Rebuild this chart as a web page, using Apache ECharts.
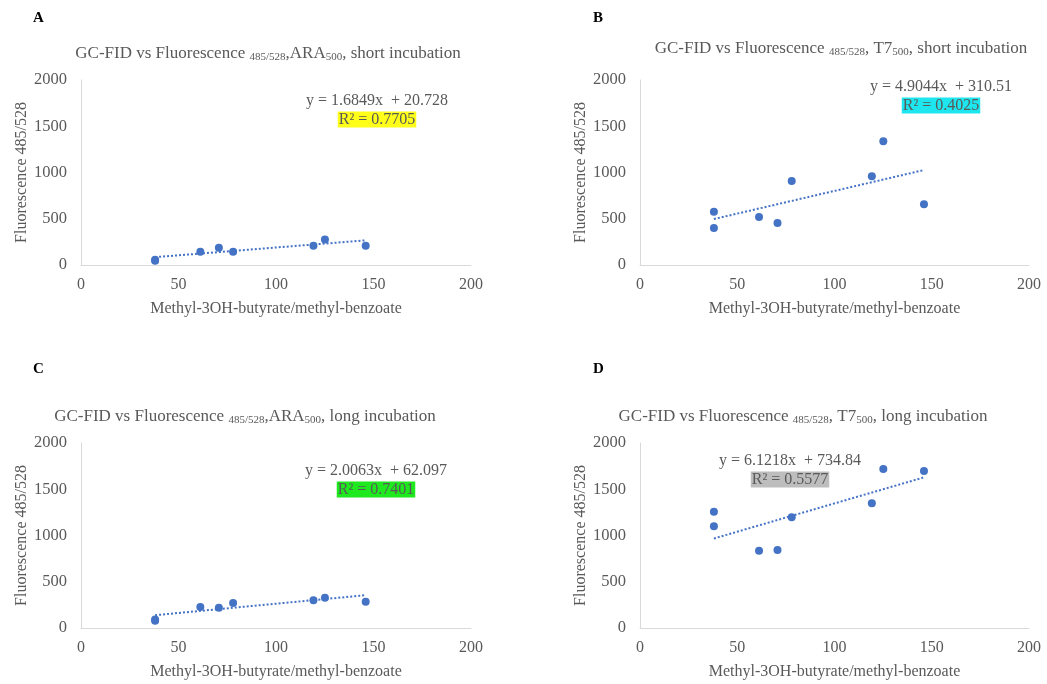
<!DOCTYPE html>
<html>
<head>
<meta charset="utf-8">
<script src="https://cdn.jsdelivr.net/npm/echarts@6/dist/echarts.min.js"></script>
<style>
  html, body { margin: 0; padding: 0; background: #fff; }
  #chart { width: 1047px; height: 684px; }
</style>
</head>
<body>
<div id="chart"></div>
<script>
// Methyl-3OH-butyrate / methyl-benzoate ratio (shared by all four panels)
const ratio = [38, 38, 61.2, 70.7, 78, 119.2, 125.1, 146];

// Fluorescence 485/528 readings per panel
const fluorA = [47, 58, 144, 187, 144, 209, 277, 209];   // ARA500, short incubation
const fluorB = [577, 400, 519, 454, 908, 959, 1337, 656]; // T7500, short incubation
const fluorC = [79, 92, 227, 220, 270, 299, 328, 285];    // ARA500, long incubation
const fluorD = [1258, 1099, 836, 843, 1196, 1348, 1719, 1697]; // T7500, long incubation

// Linear trendline fits
const slopes = [1.6849, 4.9044, 2.0063, 6.1218];
const intercepts = [20.728, 310.51, 62.097, 734.84];
const rSquared = ['0.7705', '0.4025', '0.7401', '0.5577'];
const r2Colors = ['#ffff1a', '#1ee6ee', '#1ee81e', '#bdbdbd'];

const panelLetters = ['A', 'B', 'C', 'D'];
const strainNames = ['ARA', 'T7', 'ARA', 'T7'];
const strainSep = [',', ', ', ',', ', '];
const incubation = ['short incubation', 'short incubation', 'long incubation', 'long incubation'];

const xTicks = [0, 50, 100, 150, 200];
const yTicks = [0, 500, 1000, 1500, 2000];

const panels = [fluorA, fluorB, fluorC, fluorD];

const FONT = '"Liberation Serif", "Times New Roman", serif';
const TEXT = '#595959';
const BLUE = '#4472C4';

// plot-area placement (pixels)
const grids = [
  { left: 81, top: 80, width: 390, height: 185 },
  { left: 640, top: 80, width: 389, height: 185 },
  { left: 81, top: 443, width: 390, height: 185 },
  { left: 640, top: 443, width: 389, height: 185 }
];
const titlePos = [[268, 52], [841, 47], [245, 415], [803, 415]];
const letterPos = [[33, 11], [593, 11], [33, 362], [593, 362]];
const eqPos = [[377, 91], [941, 77], [376, 461], [790, 451]];

const xAxes = [], yAxes = [], series = [], graphics = [];

panels.forEach((vals, i) => {
  xAxes.push({
    gridIndex: i, type: 'value', min: xTicks[0], max: xTicks[xTicks.length - 1], interval: 50,
    name: 'Methyl-3OH-butyrate/methyl-benzoate', nameLocation: 'middle', nameGap: 36,
    nameTextStyle: { color: TEXT, fontFamily: FONT, fontSize: 16 },
    axisLine: { show: true, lineStyle: { color: '#d9d9d9', width: 1 } },
    axisTick: { show: false }, splitLine: { show: false },
    axisLabel: { color: TEXT, fontFamily: FONT, fontSize: 16, margin: 12, formatter: v => String(v) }
  });
  yAxes.push({
    gridIndex: i, type: 'value', min: yTicks[0], max: yTicks[yTicks.length - 1], interval: 500,
    name: 'Fluorescence 485/528', nameLocation: 'middle', nameGap: 51,
    nameTextStyle: { color: TEXT, fontFamily: FONT, fontSize: 16 },
    axisLine: { show: true, lineStyle: { color: '#d9d9d9', width: 1 } },
    axisTick: { show: false }, splitLine: { show: false },
    axisLabel: { color: TEXT, fontFamily: FONT, fontSize: 16.5, margin: 14, formatter: v => String(v) }
  });

  const pts = ratio.map((x, k) => [x, vals[k]]);
  series.push({
    type: 'scatter', xAxisIndex: i, yAxisIndex: i, data: pts,
    symbolSize: 8, itemStyle: { color: BLUE, opacity: 1 }, z: 3
  });

  const xmin = Math.min(...ratio), xmax = Math.max(...ratio);
  series.push({
    type: 'line', xAxisIndex: i, yAxisIndex: i,
    data: [[xmin, slopes[i] * xmin + intercepts[i]], [xmax, slopes[i] * xmax + intercepts[i]]],
    symbol: 'none', silent: true, z: 2,
    lineStyle: { color: BLUE, width: 2, type: [2, 2] }
  });

  graphics.push({
    type: 'text', left: letterPos[i][0], top: letterPos[i][1],
    style: { text: panelLetters[i], font: 'bold 15px ' + FONT, fill: '#000' }
  });

  graphics.push({
    type: 'text', x: titlePos[i][0], y: titlePos[i][1],
    style: {
      text: '{m|GC-FID vs Fluorescence }{s|485/528}{m|' + strainSep[i] + strainNames[i] + '}{s|500}{m|, ' + incubation[i] + '}',
      align: 'center', verticalAlign: 'middle',
      rich: {
        m: { fontFamily: FONT, fontSize: 17, fill: TEXT, color: TEXT, lineHeight: 21, verticalAlign: 'bottom' },
        s: { fontFamily: FONT, fontSize: 11, fill: TEXT, color: TEXT, lineHeight: 12, verticalAlign: 'bottom' }
      }
    }
  });

  graphics.push({
    type: 'text', x: eqPos[i][0], y: eqPos[i][1],
    style: {
      text: '{e|y = ' + slopes[i] + 'x  + ' + intercepts[i] + '}\n{r|R² = ' + rSquared[i] + '}',
      align: 'center', verticalAlign: 'top',
      rich: {
        e: { fontFamily: FONT, fontSize: 16, color: TEXT, fill: TEXT, lineHeight: 19 },
        r: { fontFamily: FONT, fontSize: 16, color: TEXT, fill: TEXT, lineHeight: 19,
             backgroundColor: r2Colors[i], padding: [0, 1, 0, 1] }
      }
    }
  });
});

const chart = echarts.init(document.getElementById('chart'), null, { renderer: 'canvas' });
chart.setOption({
  backgroundColor: '#ffffff',
  animation: false,
  grid: grids,
  xAxis: xAxes,
  yAxis: yAxes,
  series: series,
  graphic: graphics
});
</script>
</body>
</html>
